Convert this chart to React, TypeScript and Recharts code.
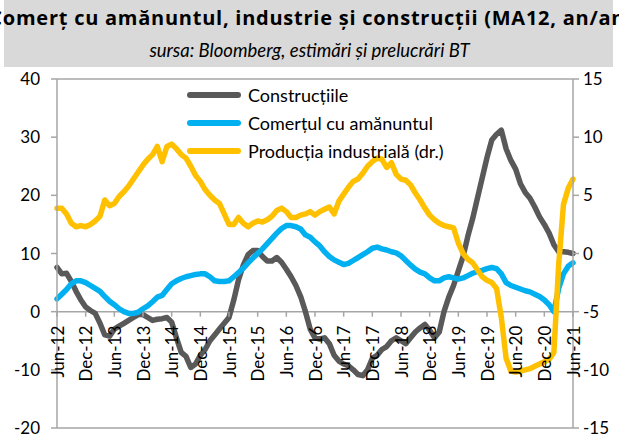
import { LineChart, Line, XAxis, YAxis, ReferenceLine } from "recharts";

// monthly, Jun-12 .. Jun-21
const MONTHS = ["Jan", "Feb", "Mar", "Apr", "May", "Jun", "Jul", "Aug", "Sep", "Oct", "Nov", "Dec"];
const categories: string[] = [];
for (let i = 0; i < 109; i++) {
  const m = (5 + i) % 12;
  const y = 12 + Math.floor((5 + i) / 12);
  categories.push(`${MONTHS[m]}-${y}`);
}

const constructii = [
  7.6, 6.5, 6.6, 5.2, 3.5, 2, 0.8, 0.2, -0.3, -2, -4, -4.2,
  -3, -2.5, -2, -1.5, -1, -0.5, -0.5, -1, -1.5, -1.3, -1.2, -1,
  -1.8, -4.5, -7, -7.7, -9.6, -9, -7.5, -6.5, -5, -4, -3, -2,
  -1, 2, 5.5, 8, 9.8, 10.5, 10.5, 9.5, 8.7, 8.7, 9.3, 8.5,
  7.3, 6, 4.5, 2.6, 0, -3, -4.5, -4.7, -4.5, -5.5, -7.5, -8.5,
  -9, -9.3, -10, -10.8, -11, -10, -8, -7.5, -6.5, -6, -5, -4.5,
  -5, -5.5, -4.5, -3.5, -2.8, -2.2, -3.2, -4.5, -3.5, 0, 2.5, 4.5,
  7, 9.5, 13, 16, 19.5, 23, 26.5, 29.5, 30.5, 31.2, 28, 26,
  24.5, 22, 20.5, 19.5, 18, 16.3, 15, 13.5, 11.5, 10.3, 10.3, 10.2,
  10,
];

const comert = [
  2.2, 3, 3.8, 4.8, 5.3, 5.3, 5, 4.5, 4, 3.5, 2.6, 1.8,
  1.2, 0.5, 0, -0.3, -0.3, -0.1, 0.5, 1, 1.7, 2.5, 2.8, 3.8,
  4.8, 5.3, 5.7, 6, 6.2, 6.4, 6.5, 6.5, 6, 5.3, 5.2, 5.2,
  5.3, 6, 6.7, 7.5, 8.4, 9.2, 10, 10.8, 11.7, 12.6, 13.5, 14.3,
  14.8, 14.8, 14.6, 14.2, 13.2, 12.8, 12, 11.3, 10.3, 9.5, 8.9, 8.5,
  8.1, 8.3, 8.8, 9.3, 9.8, 10.3, 10.9, 11.1, 10.8, 10.6, 10.3, 10.1,
  9.6, 8.8, 8, 7.3, 6.8, 6.5, 5.8, 5.3, 5.3, 5.8, 6, 5.8,
  5.6, 5.8, 6.2, 6.6, 6.9, 7.1, 7.4, 7.6, 7.4, 6.5, 5, 4.5,
  4.2, 3.9, 3.6, 3.4, 3, 2.6, 2, 1.2, 0, 4, 6.5, 7.8,
  8.4,
];

// right axis
const productie = [
  3.9, 3.9, 3.4, 2.6, 2.3, 2.4, 2.3, 2.5, 2.8, 3.2, 4.6, 4.1,
  4.3, 4.9, 5.3, 5.8, 6.4, 7, 7.6, 8.1, 8.5, 9.2, 7.9, 9.2,
  9.4, 9, 8.5, 8.2, 7.5, 6.7, 6.2, 5.5, 5, 4.6, 4.3, 3.4,
  2.5, 2.5, 3.1, 2.6, 2.3, 2.6, 2.8, 2.7, 2.9, 3.2, 3.7, 3.9,
  3.6, 3.1, 3.1, 3.3, 3.4, 3.6, 3.3, 3.6, 3.8, 4, 3.4, 4.5,
  5.1, 5.7, 6.2, 6.4, 6.9, 7.5, 7.9, 8.2, 8.1, 7.4, 7.8, 6.8,
  6.4, 6.3, 5.9, 5.2, 4.6, 3.9, 3.3, 2.9, 2.6, 2.4, 2.3, 2.2,
  0.9, 0, -0.5, -0.8, -1.4, -2, -2.3, -2.5, -3, -5.5, -9, -10.1,
  -10.2, -10.1, -10, -9.9, -9.7, -9.5, -9.3, -9.1, -8.5, -1, 4.2, 5.6,
  6.4,
];

const leftTicks = [-20, -10, 0, 10, 20, 30, 40];
const rightTicks = [-15, -10, -5, 0, 5, 10, 15];

const data = categories.map((c, i) => ({
  luna: c,
  constructii: constructii[i],
  comert: comert[i],
  productie: productie[i],
}));

const FONT = "Lato, 'Open Sans', sans-serif";
const AXIS_GREY = "#a6a6a6";
const PLOT_TOP = 79;
const PLOT_BOTTOM = 428;
// x axis crosses at 0 on the left scale
const ZERO_Y = PLOT_TOP + ((PLOT_BOTTOM - PLOT_TOP) * 40) / 60;

const series = [
  { key: "constructii", name: "Construcțiile", color: "#595959", axis: "left" },
  { key: "comert", name: "Comerțul cu amănuntul", color: "#00b0f0", axis: "left" },
  { key: "productie", name: "Producția industrială (dr.)", color: "#ffc000", axis: "right" },
];

function MonthTick(props: any) {
  const { x, payload } = props;
  return (
    <g>
      <line x1={x} x2={x} y1={ZERO_Y} y2={ZERO_Y + 5} stroke={AXIS_GREY} strokeWidth={1.5} />
      <text
        transform={`translate(${x}, ${ZERO_Y + 14}) rotate(-90)`}
        textAnchor="end"
        dominantBaseline="central"
        fontSize={17}
        fontFamily={FONT}
        fill="#000"
      >
        {payload.value}
      </text>
    </g>
  );
}

function LegendBox() {
  return (
    <div
      style={{
        position: "absolute",
        left: 187,
        top: 81,
        fontFamily: FONT,
        fontSize: 18,
        color: "#000",
      }}
    >
      {series.map((s) => (
        <div key={s.key} style={{ display: "flex", alignItems: "center", height: 28, whiteSpace: "nowrap" }}>
          <span
            style={{
              display: "inline-block",
              width: 54,
              height: 6,
              borderRadius: 3,
              background: s.color,
              marginRight: 7,
            }}
          />
          <span>{s.name}</span>
        </div>
      ))}
    </div>
  );
}

export default function App() {
  return (
    <div
      style={{
        position: "absolute",
        left: 0,
        top: 0,
        width: 619,
        height: 439,
        overflow: "hidden",
        background: "#fff",
        fontFamily: FONT,
      }}
    >
      <div
        style={{
          position: "absolute",
          left: 4,
          top: 0,
          width: 609,
          height: 67,
          background: "#d9d9d9",
        }}
      />
      {/* title is wider than the picture and gets cut at both sides, like the source */}
      <div
        style={{
          position: "absolute",
          left: -89,
          width: 800,
          top: 5,
          textAlign: "center",
          whiteSpace: "nowrap",
          fontFamily: "'Open Sans', sans-serif",
          fontWeight: 700,
          fontSize: 20,
          letterSpacing: 0.75,
          lineHeight: "26px",
        }}
      >
        Comerț cu amănuntul, industrie și construcții (MA12, an/an)
      </div>
      <div
        style={{
          position: "absolute",
          left: 0,
          width: 619,
          top: 39,
          textAlign: "center",
          fontStyle: "italic",
          fontSize: 18.5,
          lineHeight: "22px",
        }}
      >
        sursa: Bloomberg, estimări și prelucrări BT
      </div>
      <div style={{ position: "absolute", left: 0, top: 0 }}>
        <LineChart
          width={619}
          height={439}
          data={data}
          margin={{ top: PLOT_TOP, right: 0, left: 0, bottom: 10 }}
        >
          <XAxis
            dataKey="luna"
            height={1}
            interval={5}
            axisLine={false}
            tickLine={false}
            tick={<MonthTick />}
          />
          <YAxis
            yAxisId="left"
            width={57}
            domain={[-20, 40]}
            ticks={leftTicks}
            interval={0}
            stroke={AXIS_GREY}
            strokeWidth={1.5}
            tickSize={6}
            tickMargin={11}
            tick={{ fontSize: 17, fill: "#000", fontFamily: FONT }}
          />
          <YAxis
            yAxisId="right"
            orientation="right"
            width={46}
            domain={[-15, 15]}
            ticks={rightTicks}
            interval={0}
            stroke={AXIS_GREY}
            strokeWidth={1.5}
            tickSize={6}
            tickMargin={4}
            tick={{ fontSize: 17, fill: "#000", fontFamily: FONT, textAnchor: "start" }}
          />
          <ReferenceLine yAxisId="left" y={40} stroke={AXIS_GREY} strokeWidth={1.5} ifOverflow="visible" />
          <ReferenceLine yAxisId="left" y={-20} stroke={AXIS_GREY} strokeWidth={1.5} ifOverflow="visible" />
          <ReferenceLine yAxisId="left" y={0} stroke={AXIS_GREY} strokeWidth={1.5} />
          {series.map((s) => (
            <Line
              key={s.key}
              yAxisId={s.axis}
              dataKey={s.key}
              name={s.name}
              type="linear"
              stroke={s.color}
              strokeWidth={5.5}
              strokeLinejoin="round"
              strokeLinecap="round"
              dot={false}
              activeDot={false}
              isAnimationActive={false}
            />
          ))}
        </LineChart>
      </div>
      <LegendBox />
    </div>
  );
}
